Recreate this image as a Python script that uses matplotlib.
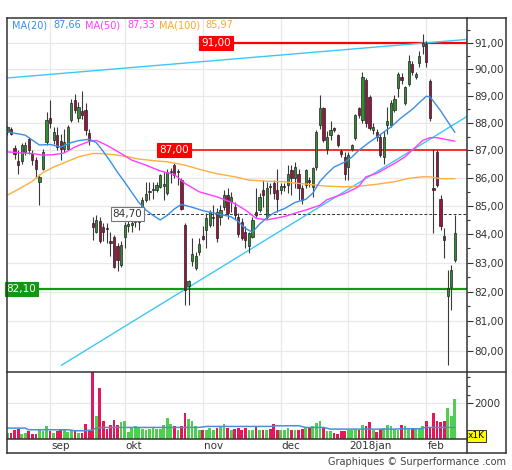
import matplotlib
matplotlib.use("Agg")
import matplotlib.pyplot as plt
import matplotlib.ticker as mticker
from matplotlib.lines import Line2D
from matplotlib.transforms import blended_transform_factory
import pandas as pd

# trading days on the chart (Euronext closed on the holidays)
start_date = "2017-08-16"
end_date = "2018-02-13"
holidays = ["2017-12-25", "2017-12-26", "2018-01-01"]
month_names = {9: "sep", 10: "okt", 11: "nov", 12: "dec", 1: "2018jan", 2: "feb"}

opens = [87.65, 87.77, 87.08, 86.6, 86.6, 86.93, 87.42, 86.88, 86.64, 85.86,
         86.33, 87.31, 88.17, 87.37, 87.55, 87.34, 87.06, 87.06, 88.11, 88.84,
         88.17, 88.45, 88.47, 87.62, 84.38, 84.09, 84.46, 84.26, 84.23, 83.75,
         83.91, 83.57, 82.92, 83.91, 84.28, 84.33, 84.44, 84.43, 84.79, 85.2,
         85.5, 85.56, 85.56, 85.68, 85.72, 85.44, 86.22, 86.45, 86.2, 85.92,
         84.32, 82.18, 83.05, 82.81, 83.39, 83.94, 84.15, 84.32, 84.56, 84.79,
         84.61, 84.96, 85.38, 85.14, 84.96, 84.61, 84.44, 84.09, 83.57, 83.91,
         84.79, 84.85, 85.56, 84.62, 85.72, 85.8, 85.56, 85.56, 85.68, 85.74,
         86.27, 85.98, 86.15, 85.62, 85.74, 85.92, 85.68, 86.4, 87.92, 88.54,
         87.06, 87.55, 87.81, 87.55, 86.97, 86.76, 86.39, 87.03, 87.43, 88.54,
         88.11, 89.61, 88.97, 87.74, 87.68, 87.49, 86.76, 87.92, 87.92, 88.48,
         89.28, 89.7, 88.73, 89.44, 90.19, 89.72, 90.25, 90.88, 90.95, 89.57,
         85.62, 86.94, 85.26, 83.92, 81.85, 82.17, 83.1]
highs = [87.9, 87.85, 87.18, 87.0, 87.27, 87.3, 87.48, 87.0, 86.76, 86.15,
         87.06, 88.42, 88.84, 87.86, 87.86, 87.6, 87.79, 87.91, 88.9, 89.08,
         88.78, 89.2, 88.72, 87.79, 84.62, 84.68, 84.62, 84.38, 84.38, 84.09,
         83.97, 83.69, 83.75, 84.44, 84.5, 84.68, 84.82, 84.68, 85.32, 85.85,
         85.85, 85.85, 85.85, 86.15, 86.22, 86.33, 86.36, 86.55, 86.33, 85.98,
         84.38, 82.41, 83.86, 83.39, 83.86, 84.27, 84.73, 84.85, 85.02, 84.91,
         85.02, 85.56, 85.62, 85.5, 85.14, 84.73, 84.56, 84.27, 84.09, 84.62,
         85.62, 85.44, 85.92, 85.86, 85.82, 85.92, 86.33, 85.82, 85.82, 86.45,
         86.45, 86.57, 86.33, 85.74, 86.33, 86.02, 86.39, 87.74, 89.02, 88.58,
         87.72, 88.06, 87.86, 87.61, 87.06, 86.94, 86.94, 87.23, 88.34, 88.6,
         89.89, 89.67, 89.03, 87.99, 87.76, 87.61, 87.72, 88.6, 88.85, 89.02,
         89.9, 89.85, 89.38, 90.55, 90.31, 89.9, 90.68, 91.32, 91.07, 89.63,
         87.06, 87.0, 85.38, 84.21, 82.76, 82.92, 84.67]
lows = [87.55, 87.55, 86.68, 86.15, 86.51, 86.82, 86.88, 86.46, 85.98, 85.02,
        86.27, 87.18, 87.8, 87.24, 87.0, 86.64, 86.94, 87.0, 88.05, 88.35,
        88.05, 88.15, 87.55, 87.18, 83.8, 84.03, 83.69, 83.75, 83.69, 83.22,
        82.82, 82.7, 82.86, 83.5, 84.09, 84.09, 84.26, 84.13, 84.72, 85.14,
        85.2, 85.26, 85.5, 85.62, 85.22, 85.38, 85.82, 85.98, 85.74, 84.85,
        81.55, 81.55, 82.87, 82.75, 83.28, 83.8, 83.5, 84.26, 84.28, 83.74,
        84.32, 84.85, 84.55, 84.79, 84.55, 83.91, 83.79, 83.5, 83.33, 83.85,
        84.62, 84.79, 84.97, 84.55, 85.42, 85.26, 84.79, 85.42, 85.52, 85.44,
        85.38, 85.62, 85.2, 85.08, 85.62, 85.67, 85.32, 86.28, 87.76, 87.29,
        86.88, 87.37, 87.65, 87.13, 86.76, 85.92, 85.92, 86.98, 87.37, 88.17,
        87.99, 87.86, 87.74, 87.61, 87.35, 86.76, 86.51, 87.61, 87.86, 88.42,
        88.97, 89.45, 88.67, 89.38, 89.78, 89.65, 90.07, 90.57, 90.08, 88.07,
        84.03, 85.68, 84.15, 83.15, 79.52, 81.37, 83.04]
closes = [87.85, 87.61, 86.88, 86.45, 87.18, 87.2, 87.0, 86.64, 86.33, 86.02,
          86.94, 88.1, 87.99, 87.67, 87.12, 87.06, 87.31, 87.86, 88.72, 88.48,
          88.6, 88.3, 87.74, 87.37, 84.26, 84.5, 83.75, 84.09, 84.18, 83.7,
          82.86, 83.1, 83.62, 84.32, 84.35, 84.38, 84.67, 84.58, 85.2, 85.42,
          85.53, 85.58, 85.74, 86.09, 85.77, 86.21, 86.25, 86.09, 86.24, 84.9,
          82.05, 82.37, 83.3, 83.22, 83.65, 83.84, 84.56, 84.79, 84.62, 83.85,
          84.85, 85.38, 84.73, 85.32, 84.67, 84.02, 83.85, 83.79, 84.03, 84.5,
          84.67, 85.32, 85.38, 85.62, 85.67, 85.44, 85.26, 85.72, 85.72, 86.15,
          85.98, 86.39, 85.62, 85.2, 86.27, 85.86, 86.34, 87.66, 88.54, 87.36,
          87.48, 87.75, 87.75, 87.19, 86.85, 86.15, 86.82, 87.18, 88.28, 88.29,
          89.71, 87.99, 87.8, 87.86, 87.49, 86.82, 87.49, 88.08, 88.72, 88.9,
          89.83, 89.6, 89.32, 90.31, 89.9, 89.82, 90.5, 91.01, 90.27, 88.19,
          85.57, 85.74, 84.27, 83.8, 82.11, 82.74, 84.03]
# volume in thousands
volumes = [333, 333, 482, 576, 296, 333, 427, 296, 296, 520,
           427, 707, 427, 333, 427, 520, 557, 371, 520, 463,
           333, 333, 856, 427, 3900, 1305, 2854, 1025, 557, 781,
           1080, 800, 931, 987, 371, 614, 707, 614, 557, 520,
           557, 614, 557, 557, 800, 1174, 856, 745, 520, 745,
           1491, 1117, 987, 707, 520, 520, 520, 614, 520, 614,
           707, 856, 614, 520, 557, 614, 520, 614, 520, 520,
           745, 520, 482, 520, 557, 837, 520, 482, 482, 614,
           482, 482, 520, 557, 614, 614, 707, 894, 1025, 614,
           427, 427, 333, 296, 427, 427, 482, 520, 557, 520,
           800, 707, 931, 520, 371, 557, 614, 800, 707, 557,
           520, 800, 707, 557, 557, 576, 614, 745, 987, 614,
           1491, 987, 931, 987, 1734, 1267, 2256]

# moving averages (day index, value)
ma20_x = [0, 5, 9, 12, 15, 18, 20, 23, 25, 27, 29, 31, 33, 35, 37, 39, 41, 43, 45,
          47, 49, 52, 55, 59, 63, 65, 67, 69, 71, 73, 75, 78, 81, 84, 86, 88, 90,
          92, 95, 97, 99, 102, 105, 108, 111, 114, 116, 118, 119, 120, 122, 124, 126]
ma20_y = [87.67, 87.55, 87.19, 87.21, 87.12, 87.28, 87.35, 87.4, 87.28, 86.95,
          86.59, 86.2, 85.85, 85.48, 85.12, 84.85, 84.66, 84.5, 84.66, 84.89,
          85.05, 84.95, 84.83, 84.72, 84.61, 84.44, 84.2, 84.07, 84.35, 84.57,
          84.75, 84.9, 85.12, 85.23, 85.45, 85.87, 86.15, 86.39, 86.57, 86.75,
          87.0, 87.3, 87.57, 87.85, 88.2, 88.5, 88.75, 88.99, 88.96, 88.8,
          88.45, 88.05, 87.66]
ma50_x = [0, 3, 7, 10, 13, 16, 19, 23, 25, 28, 32, 35, 39, 43, 47, 50, 54, 59, 64,
          67, 70, 73, 78, 81, 84, 88, 90, 95, 98, 99, 101, 104, 109, 112, 114, 117,
          119, 121, 124, 126]
ma50_y = [86.94, 86.91, 86.88, 86.82, 86.84, 86.9, 87.12, 87.32, 87.36, 87.18,
          86.88, 86.64, 86.46, 86.25, 86.12, 85.8, 85.5, 85.32, 85.08, 84.85,
          84.56, 84.5, 84.62, 84.74, 84.85, 85.02, 85.22, 85.44, 85.62, 85.7,
          86.04, 86.16, 86.52, 86.76, 87.0, 87.36, 87.46, 87.46, 87.38, 87.33]
ma100_x = [0, 3.5, 7, 10, 13, 17, 20, 24, 26, 30, 34, 37, 42, 45, 50, 54, 59, 64,
           68, 73, 78, 82, 87, 90, 95, 99, 104, 109, 113, 117, 119, 122, 126]
ma100_y = [85.38, 85.62, 85.88, 86.19, 86.39, 86.6, 86.76, 86.88, 86.88, 86.84,
           86.76, 86.68, 86.61, 86.58, 86.46, 86.31, 86.15, 86.04, 85.92, 85.88,
           85.86, 85.8, 85.74, 85.7, 85.68, 85.7, 85.77, 85.86, 85.98, 86.04,
           86.04, 85.97, 85.97]
ma_labels = ["MA(20)", "MA(50)", "MA(100)"]
ma_last = ["87,66", "87,33", "85,97"]

vma_x = [0, 5, 6, 17, 19, 22, 24, 25, 27, 54, 56, 74, 76, 82, 84, 89, 91, 109,
         111, 116, 118, 126]
vma_y = [614, 614, 520, 520, 465, 465, 520, 614, 651, 651, 707, 707, 745, 745,
         651, 651, 557, 557, 576, 576, 651, 651]

# drawn levels and trend lines
resist_hi = 91.00
resist_mid = 87.00
support = 82.10
last_ref = 84.70
trend_up_x = [-0.14, 129.44]
trend_up_y = [89.67, 91.13]
trend_low_x = [15.27, 129.44]
trend_low_y = [79.52, 88.24]

# colours
C_UP, C_DN = "#2f8f2f", "#9e1240"
V_UP, V_DN = "#4fcf4f", "#e2185b"
C_MA = ["#3a8ee6", "#ff3dff", "#ffad42"]
C_TXT = ["#2f8ff0", "#ff3dff", "#ffa43a"]
GRID = "#e8e8e8"
FRAME = "#333333"

dates = pd.bdate_range(start_date, end_date)
dates = dates[~dates.isin(pd.to_datetime(holidays))]
idx = list(range(len(dates)))

W, H = 512, 470
fig = plt.figure(figsize=(W / 100, H / 100), dpi=100)
plt.rcParams["font.family"] = "DejaVu Sans"


def fx(px):
    return px / W


def fy(py):
    return 1 - py / H


ax = fig.add_axes([fx(7), fy(372), fx(467) - fx(7), fy(18) - fy(372)])
axv = fig.add_axes([fx(7), fy(439), fx(467) - fx(7), fy(372) - fy(439)], sharex=ax)

for a in (ax, axv):
    for s in a.spines.values():
        s.set_visible(False)
    a.tick_params(axis="x", bottom=False, labelbottom=False)

xlim = (-0.14, 129.44)
ax.set_xlim(*xlim)
ax.set_yscale("log")
ax.set_ylim(79.29, 91.95)

# month starts
month_start = []
for i in range(1, len(dates)):
    if dates[i].month != dates[i - 1].month:
        month_start.append(i)
for m in month_start:
    ax.axvline(m, color=GRID, lw=0.9, zorder=0)
    axv.axvline(m, color=GRID, lw=0.9, zorder=0)

levels = list(range(80, 92))
for lv in levels:
    ax.axhline(lv, color=GRID, lw=0.9, zorder=0)

ax.yaxis.tick_right()
ax.yaxis.set_major_locator(mticker.FixedLocator(levels))
ax.yaxis.set_minor_locator(mticker.FixedLocator([v + 0.5 for v in levels]))
ax.yaxis.set_major_formatter(
    mticker.FuncFormatter(lambda v, p: f"{v:.2f}".replace(".", ",")))
ax.yaxis.set_minor_formatter(mticker.NullFormatter())
ax.tick_params(axis="y", which="major", length=4, width=0.8, pad=1,
               labelsize=7.5, colors="#333333")
ax.tick_params(axis="y", which="minor", length=2.5, width=0.8, colors="#333333")

# candles
for i in idx:
    o, h, l, c = opens[i], highs[i], lows[i], closes[i]
    col = C_UP if c >= o else C_DN
    ax.vlines(i, l, h, color="#3a3a3a", lw=0.8, zorder=3)
    lo_b, hi_b = min(o, c), max(o, c)
    if hi_b - lo_b < 0.04:
        hi_b = lo_b + 0.04
    ax.bar(i, hi_b - lo_b, bottom=lo_b, width=0.62, color=col,
           edgecolor="#222222", lw=0.5, zorder=3.5)

# moving averages
ax.plot(ma100_x, ma100_y, color=C_MA[2], lw=1.0, zorder=4)
ax.plot(ma50_x, ma50_y, color=C_MA[1], lw=1.0, zorder=4)
ax.plot(ma20_x, ma20_y, color=C_MA[0], lw=1.0, zorder=4)

# trend lines
ax.plot(trend_up_x, trend_up_y, color="#3cc8f5", lw=1.0, zorder=2.5)
ax.plot(trend_low_x, trend_low_y, color="#3cc8f5", lw=1.0, zorder=2.5)

# levels with their tags
ax.hlines(resist_hi, 62.7, xlim[1], color="#ff0000", lw=1.6, zorder=2)
ax.hlines(resist_mid, 50.8, xlim[1], color="#ff2a2a", lw=1.4, zorder=2)
ax.hlines(support, 7.7, xlim[1], color="#129a12", lw=1.6, zorder=2)
ax.hlines(last_ref, 37.9, xlim[1], color="#333333", lw=0.7,
          linestyles=(0, (3, 2)), zorder=2)


def tag(x, y, txt, fc, tc, ec):
    ax.text(x, y, txt, ha="center", va="center", fontsize=7.5, color=tc,
            zorder=6, bbox=dict(boxstyle="square,pad=0.18", fc=fc, ec=ec, lw=0.8))


tag(58.7, resist_hi, "91,00", "#ff0000", "white", "#ff0000")
tag(46.9, resist_mid, "87,00", "#ff0000", "white", "#ff0000")
tag(3.9, support, "82,10", "#119911", "white", "#119911")
tag(33.8, last_ref, "84,70", "white", "#333333", "#777777")

# legend line
leg_x = [12, 53, 85, 127, 159, 205]
for k in range(3):
    fig.text(fx(leg_x[2 * k]), fy(25), ma_labels[k], color=C_TXT[k], fontsize=7,
             va="center")
    fig.text(fx(leg_x[2 * k + 1]), fy(25), ma_last[k], color=C_TXT[k], fontsize=7,
             va="center")

# volume panel
vcol = [V_UP if closes[i] >= opens[i] else V_DN for i in idx]
axv.bar(idx, volumes, width=0.78, color=vcol, zorder=2)
axv.plot(vma_x, vma_y, color="#4a8fd8", lw=1.1, zorder=3)
axv.set_ylim(0, 3770)
axv.axhline(2000, color=GRID, lw=0.9, zorder=0)
axv.yaxis.tick_right()
axv.yaxis.set_major_locator(mticker.FixedLocator([2000]))
axv.yaxis.set_minor_locator(mticker.FixedLocator([2500, 3000, 3500]))
axv.tick_params(axis="y", which="major", length=4, width=0.8, pad=1,
                labelsize=7.5, colors="#333333")
axv.tick_params(axis="y", which="minor", length=2.5, width=0.8, colors="#333333")
fig.text(fx(476.5), fy(436), "x1K", fontsize=6.5, ha="center", va="center",
         bbox=dict(boxstyle="square,pad=0.15", fc="#ffff00", ec="#333333", lw=0.7))

# month labels in the strip under the volume
trans = blended_transform_factory(axv.transData, axv.transAxes)
for m in month_start:
    axv.text(m + 0.25, -0.105, month_names[dates[m].month], transform=trans,
             fontsize=7.5, color="#333333", ha="left", va="center")


def fig_line(x0, y0, x1, y1, lw=1.1):
    fig.add_artist(Line2D([fx(x0), fx(x1)], [fy(y0), fy(y1)], color=FRAME, lw=lw))


fig_line(7, 18, 506, 18)
fig_line(7, 453, 506, 453)
fig_line(7, 18, 7, 453)
fig_line(506, 18, 506, 453)
fig_line(7, 372, 506, 372)
fig_line(7, 439, 467, 439)
fig_line(467, 18, 467, 453)

fig.text(fx(506), fy(462), "Graphiques \u00a9 Surperformance .com", fontsize=7,
         color="#444444", ha="right", va="center")

fig.savefig("out.png", dpi=100, facecolor="white")
